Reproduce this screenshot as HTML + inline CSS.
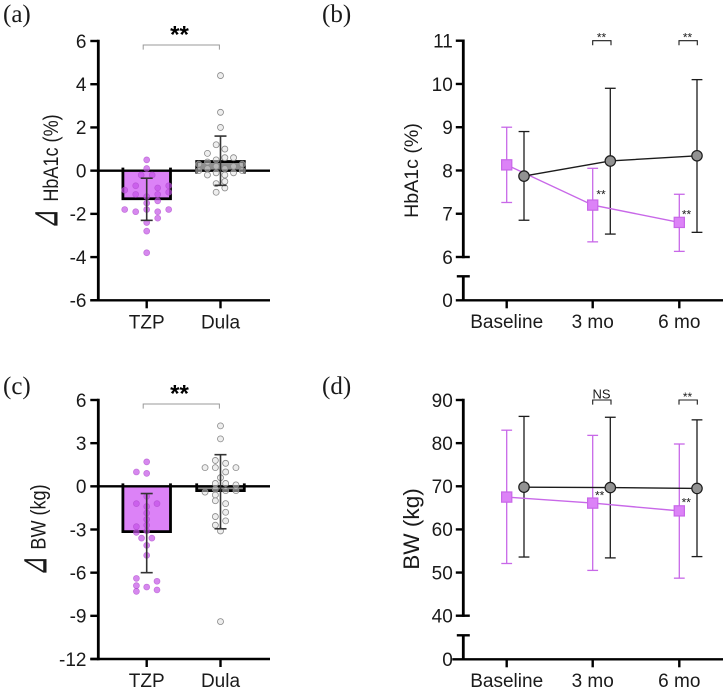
<!DOCTYPE html>
<html lang="en">
<head>
<meta charset="utf-8">
<title>HbA1c and body weight outcomes: TZP vs Dula</title>
<style>
html,body{margin:0;padding:0;background:#fff;width:727px;height:690px;overflow:hidden}
svg{display:block}
text{font-family:"Liberation Sans",Arial,sans-serif;fill:#1a1a1a}
.panel-letter{font-family:"Liberation Serif",serif;font-size:25px}
</style>
</head>
<body>
<svg id="figure" width="727" height="690" viewBox="0 0 727 690" xmlns="http://www.w3.org/2000/svg"></svg>
<script>
// ---------- Panel (a) change in HbA1c ----------
const aTicks = [6, 4, 2, 0, -2, -4, -6];
const aBarCategories = ['TZP', 'Dula'];
const aBarMeans = [-1.3, 0.42];
const aBarUpper = [-0.35, 1.6];
const aBarLower = [-2.3, -0.68];
const aTzpValues = [0.5, 0.1, -0.2, -0.2, -0.7, -0.7, -0.9, -0.8, -1.1, -1.1, -1.0, -1.2, -1.4, -1.5, -1.8, -1.9, -1.8, -1.9, -1.8, -2.2, -2.4, -2.8, -3.8];
const aTzpSlots = [0, 0, -0.5, 0.5, -1, 2, -2, 1, -1, 1, 2, 0, 1, 0, -2, -1, 0, 1, 2, 1, 0, 0, 0];
const aDulaValues = [4.4, 2.7, 2.0, 1.2, 1.0, 0.8, 0.5, 0.6, 0.6, 0.4, 0.3, 0.3, 0.2, 0.2, 0.1, 0.1, 0, 0, -0.1, -0.1, -0.2, -0.2, -0.6, -0.5, -0.8, -1.0];
const aDulaSlots = [0, 0, 0, -0.5, 0.5, -1.5, -0.5, 0.5, 1.5, -1.5, -2.5, 2.5, -0.5, 1.5, -1.5, 0.5, -2.5, 2.5, -0.5, 1.5, -1.5, 0.5, -0.5, 0.5, 0.5, -0.5];

// ---------- Panel (c) change in body weight ----------
const cTicks = [6, 3, 0, -3, -6, -9, -12];
const cBarCategories = ['TZP', 'Dula'];
const cBarMeans = [-3.15, -0.3];
const cBarUpper = [-0.5, 2.2];
const cBarLower = [-6.0, -2.95];
const cTzpValues = [1.7, 1.0, 0.9, -0.7, -1.2, -1.2, -1.4, -1.85, -2.3, -2.7, -2.8, -3.1, -3.2, -3.6, -3.6, -4.1, -4.8, -6.4, -6.6, -6.9, -7.0, -7.2, -7.3];
const cTzpSlots = [0, -1, 0, 0, -1, 1, 0, 0, 0, 0, -1, 0, -1, -0.5, 0.5, 0, 0, -1, 1, -1, 0, 1, -1];
const cDulaValues = [4.2, 3.3, 1.8, 1.6, 1.3, 1.3, 1.3, 1.0, 0.6, 0.2, 0.2, 0.1, -0.2, -0.3, -0.3, -0.4, -0.6, -1.0, -1.2, -1.8, -2.1, -2.4, -2.7, -3.1, -9.4];
const cDulaSlots = [0, 0, -0.5, 0.5, -1.5, -0.5, 1.5, 0.5, 0, -0.5, 0.5, 1.5, -0.5, 0.5, 1.5, -1.5, -0.5, -0.5, 0.5, 0.5, -0.5, 0.5, -0.5, 0, 0];

// ---------- Panel (b) HbA1c over time ----------
const timeCategories = ['Baseline', '3 mo', '6 mo'];
const bTicks = [11, 10, 9, 8, 7, 6];
const bTzpMeans = [8.13, 7.2, 6.8];
const bTzpUpper = [9.0, 8.05, 7.45];
const bTzpLower = [7.26, 6.35, 6.13];
const bDulaMeans = [7.87, 8.22, 8.34];
const bDulaUpper = [8.9, 9.9, 10.1];
const bDulaLower = [6.85, 6.53, 6.57];

// ---------- Panel (d) body weight over time ----------
const dTicks = [90, 80, 70, 60, 50, 40];
const dTzpMeans = [67.5, 66.1, 64.3];
const dTzpUpper = [83.0, 81.8, 79.8];
const dTzpLower = [52.1, 50.5, 48.7];
const dDulaMeans = [69.8, 69.7, 69.5];
const dDulaUpper = [86.2, 86.0, 85.4];
const dDulaLower = [53.6, 53.4, 53.7];

const NS = 'http://www.w3.org/2000/svg';
const root = document.getElementById('figure');
const PURPLE = '#c868e8';
const BAR_PURPLE = '#dc82f7';

function make(parent, tag, name, attrs, content) {
  const el = document.createElementNS(NS, tag);
  
  
  for (const k in attrs) el.setAttribute(k, attrs[k]);
  if (content !== undefined) el.textContent = content;
  parent.appendChild(el);
  return el;
}
function seg(parent, name, x1, y1, x2, y2, stroke, width) {
  return make(parent, 'line', name, {x1: x1, y1: y1, x2: x2, y2: y2, stroke: stroke, 'stroke-width': width});
}
function label(parent, name, x, y, str, size, anchor, extra) {
  return make(parent, 'text', name, Object.assign({x: x, y: y, 'font-size': size, 'text-anchor': anchor || 'middle'}, extra || {}), str);
}
function linear(d0, d1, r0, r1) {
  return function (v) { return r0 + (v - d0) * (r1 - r0) / (d1 - d0); };
}
function errorBar(parent, name, x, yHi, yLo, cap, stroke, width) {
  const g = make(parent, 'g', name, {});
  seg(g, name + '-stem', x, yHi, x, yLo, stroke, width);
  seg(g, name + '-cap-top', x - cap, yHi, x + cap, yHi, stroke, width);
  seg(g, name + '-cap-bottom', x - cap, yLo, x + cap, yLo, stroke, width);
}
function stars(parent, name, cx, cy, size, bold) {
  return label(parent, name, cx, cy + size * 0.47, '**', size, 'middle', bold ? {'font-weight': 'bold', style: 'fill:#000'} : {});
}
function bracket(parent, name, x1, x2, yTop, yBot, stroke, width) {
  return make(parent, 'path', name, {d: 'M' + x1 + ' ' + yBot + 'V' + yTop + 'H' + x2 + 'V' + yBot, fill: 'none', stroke: stroke, 'stroke-width': width});
}

function barPanel(p) {
  const g = make(root, 'g', p.id, {});
  const y = linear(p.dMin, p.dMax, p.yBottom, p.yTop);
  const axisX = 98.3;
  const xCenters = [146.7, 220.5];
  const halfBar = 23.8;

  label(g, p.id + '-letter', 3, p.letterY, p.letter, 25, 'start', {class: 'panel-letter'});

  // bars
  p.cats.forEach(function (c, i) {
    const left = xCenters[i] - halfBar, right = xCenters[i] + halfBar;
    const top = y(p.means[i]), zero = y(0);
    const dir = p.means[i] >= 0 ? 1 : -1;
    make(g, 'rect', 'bar-' + c.toLowerCase(), {x: left, y: Math.min(top, zero), width: right - left, height: Math.abs(top - zero), fill: i === 0 ? BAR_PURPLE : '#8f8f8f'});
    make(g, 'path', 'bar-outline-' + c.toLowerCase(), {d: 'M' + left + ' ' + (zero + dir * 3) + 'V' + top + 'H' + right + 'V' + (zero + dir * 3), fill: 'none', stroke: '#000', 'stroke-width': 2.8});
  });

  // axes
  seg(g, 'zero-line', axisX, y(0), 270, y(0), '#000', 2.4);
  seg(g, 'y-axis', axisX, p.yTop - 1.2, axisX, p.yBottom + 1.2, '#000', 2.8);
  seg(g, 'x-axis', axisX - 8, p.yBottom, 270, p.yBottom, '#000', 2.4);
  p.ticks.forEach(function (t) {
    seg(g, 'y-tick', axisX - 8, y(t), axisX, y(t), '#000', 2.4);
    label(g, 'y-tick-label', 86.5, y(t) + 6.8, String(t), 19, 'end');
  });
  p.cats.forEach(function (c, i) {
    seg(g, 'x-tick', xCenters[i], p.yBottom, xCenters[i], p.yBottom + 8, '#000', 2.4);
    label(g, 'x-tick-label', xCenters[i], p.yBottom + 28, c, 19);
  });

  // y title and its delta symbol
  label(g, 'y-axis-title', 0, 0, p.title, 21, 'middle', {transform: 'translate(' + p.titleX + ' ' + p.titleY + ') rotate(-90) scale(0.86 1)'});
  make(g, 'text', 'delta-symbol', {x: 0, y: 0, 'font-size': 24, 'text-anchor': 'middle', style: 'font-family:"DejaVu Sans",sans-serif', transform: 'translate(' + p.deltaX + ' ' + p.deltaY + ') rotate(-90) scale(1 1.65)'}, '\u22BF');

  // dots
  p.tzp.forEach(function (v, i) {
    make(g, 'circle', 'dot-tzp', {cx: xCenters[0] + p.tzpSlots[i] * p.tzpStep, cy: y(v), r: 3, fill: 'rgba(195,80,230,.68)', stroke: 'rgba(175,75,205,.65)', 'stroke-width': 0.7});
  });
  p.dula.forEach(function (v, i) {
    make(g, 'circle', 'dot-dula', {cx: xCenters[1] + p.dulaSlots[i] * p.dulaStep, cy: y(v), r: 3, fill: 'rgba(222,222,222,.5)', stroke: '#8a8a8a', 'stroke-width': 0.8});
  });

  // error bars
  p.cats.forEach(function (c, i) {
    errorBar(g, 'error-bar-' + c.toLowerCase(), xCenters[i], y(p.upper[i]), y(p.lower[i]), 6, '#333', 1.6);
  });

  // significance
  bracket(g, 'significance-bracket', 143.2, 219.4, p.bracketY, p.bracketY + 4.6, '#9a9a9a', 1);
  stars(g, 'significance-stars', 179.5, p.bracketY - 14, 24, true);
}

function linePanel(p) {
  const g = make(root, 'g', p.id, {});
  const y = linear(p.dMin, p.dMax, p.yLow, p.yTop);
  const axisX = 463.3;
  const tzpX = [506.7, 592.7, 679.3];
  const dulaX = [524, 610.3, 697];
  label(g, p.id + '-letter', 322, p.letterY, p.letter, 25, 'start', {class: 'panel-letter'});

  seg(g, 'y-axis-upper', axisX, p.yTop - 1.2, axisX, p.yLow + 1.2, '#000', 2.8);
  seg(g, 'y-axis-lower', axisX, p.yBreak, axisX, p.yZero, '#000', 2.8);
  seg(g, 'x-axis', axisX - p.zeroTick, p.yZero, 723, p.yZero, '#000', 2.4);
  seg(g, 'axis-break-cap', axisX - 6.5, p.yBreak, axisX + 6.5, p.yBreak, '#000', 2.4);
  p.ticks.forEach(function (t, i) {
    const last = i === p.ticks.length - 1;
    seg(g, 'y-tick', axisX - 7.5, y(t), axisX + (last ? 6.5 : 0), y(t), '#000', 2.4);
    label(g, 'y-tick-label', 452.8, y(t) + 6.8, String(t), 19, 'end');
  });
  label(g, 'y-tick-label', 452.8, p.yZero + 6.8, '0', 19, 'end');
  timeCategories.forEach(function (c, i) {
    seg(g, 'x-tick', tzpX[i], p.yZero, tzpX[i], p.yZero + 8, '#000', 2.4);
    label(g, 'x-tick-label', tzpX[i], p.yZero + 27.8, c, 19);
  });
  label(g, 'y-axis-title', 0, 0, p.title, p.titleSize, 'middle', {transform: 'translate(' + p.titleX + ' ' + p.titleY + ') rotate(-90)'});

  // error bars
  timeCategories.forEach(function (c, i) {
    errorBar(g, 'error-bar-dula', dulaX[i], y(p.dulaUpper[i]), y(p.dulaLower[i]), 5.4, '#1c1c1c', 1.3);
  });
  timeCategories.forEach(function (c, i) {
    errorBar(g, 'error-bar-tzp', tzpX[i], y(p.tzpUpper[i]), y(p.tzpLower[i]), 5.4, PURPLE, 1.3);
  });

  // series lines
  make(g, 'polyline', 'line-tzp', {points: p.tzpMeans.map(function (v, i) { return tzpX[i] + ',' + y(v); }).join(' '), fill: 'none', stroke: PURPLE, 'stroke-width': 1.4});
  make(g, 'polyline', 'line-dula', {points: p.dulaMeans.map(function (v, i) { return dulaX[i] + ',' + y(v); }).join(' '), fill: 'none', stroke: '#1c1c1c', 'stroke-width': 1.4});

  // markers
  p.tzpMeans.forEach(function (v, i) {
    make(g, 'rect', 'marker-tzp', {x: tzpX[i] - 5.1, y: y(v) - 5.1, width: 10.2, height: 10.2, fill: BAR_PURPLE, stroke: '#c867e8', 'stroke-width': 1.2});
  });
  p.dulaMeans.forEach(function (v, i) {
    make(g, 'circle', 'marker-dula', {cx: dulaX[i], cy: y(v), r: 5.2, fill: '#929292', stroke: '#1c1c1c', 'stroke-width': 1.2});
  });

  // significance
  bracket(g, 'bracket-3mo', 592.7, 611, p.yTop, p.yTop + 4.6, '#1c1c1c', 1.1);
  bracket(g, 'bracket-6mo', 679, 697.3, p.yTop, p.yTop + 4.6, '#1c1c1c', 1.1);
  if (p.ns) {
    label(g, 'ns-label', 601.5, p.yTop - 1.5, 'NS', 13);
  } else {
    stars(g, 'stars-3mo', 601.5, p.yTop - 4.8, 12, false);
  }
  stars(g, 'stars-6mo', 687.5, p.yTop - 4.8, 12, false);
  stars(g, 'stars-tzp-3mo', p.starA[0], p.starA[1], 12, false);
  stars(g, 'stars-tzp-6mo', p.starB[0], p.starB[1], 12, false);
}

barPanel({id: 'panel-a', letter: '(a)', letterY: 22, dMin: -6, dMax: 6, yBottom: 300.3, yTop: 41, ticks: aTicks, cats: aBarCategories,
  means: aBarMeans, upper: aBarUpper, lower: aBarLower, tzp: aTzpValues, tzpSlots: aTzpSlots, tzpStep: 11, dula: aDulaValues, dulaSlots: aDulaSlots, dulaStep: 8.7,
  title: 'HbA1c (%)', titleX: 58, titleY: 158, deltaX: 57.5, deltaY: 219, bracketY: 45});

barPanel({id: 'panel-c', letter: '(c)', letterY: 394, dMin: -12, dMax: 6, yBottom: 659, yTop: 400, ticks: cTicks, cats: cBarCategories,
  means: cBarMeans, upper: cBarUpper, lower: cBarLower, tzp: cTzpValues, tzpSlots: cTzpSlots, tzpStep: 10.3, dula: cDulaValues, dulaSlots: cDulaSlots, dulaStep: 10.3,
  title: 'BW (kg)', titleX: 45.5, titleY: 517, deltaX: 46.5, deltaY: 566, bracketY: 404});

linePanel({id: 'panel-b', letter: '(b)', letterY: 22, dMin: 6, dMax: 11, yLow: 257, yTop: 40.7, yBreak: 276.3, yZero: 300.3, zeroTick: 7.5, ticks: bTicks,
  tzpMeans: bTzpMeans, tzpUpper: bTzpUpper, tzpLower: bTzpLower, dulaMeans: bDulaMeans, dulaUpper: bDulaUpper, dulaLower: bDulaLower,
  title: 'HbA1c (%)', titleSize: 19.6, titleX: 418, titleY: 170.5, ns: false, starA: [601, 192.7], starB: [686.5, 212.7]});

linePanel({id: 'panel-d', letter: '(d)', letterY: 394, dMin: 40, dMax: 90, yLow: 615.7, yTop: 400, yBreak: 635.3, yZero: 659.3, zeroTick: 11, ticks: dTicks,
  tzpMeans: dTzpMeans, tzpUpper: dTzpUpper, tzpLower: dTzpLower, dulaMeans: dDulaMeans, dulaUpper: dDulaUpper, dulaLower: dDulaLower,
  title: 'BW (kg)', titleSize: 22.6, titleX: 419, titleY: 529, ns: true, starA: [599.7, 494], starB: [686.3, 501]});
</script>
</body>
</html>
